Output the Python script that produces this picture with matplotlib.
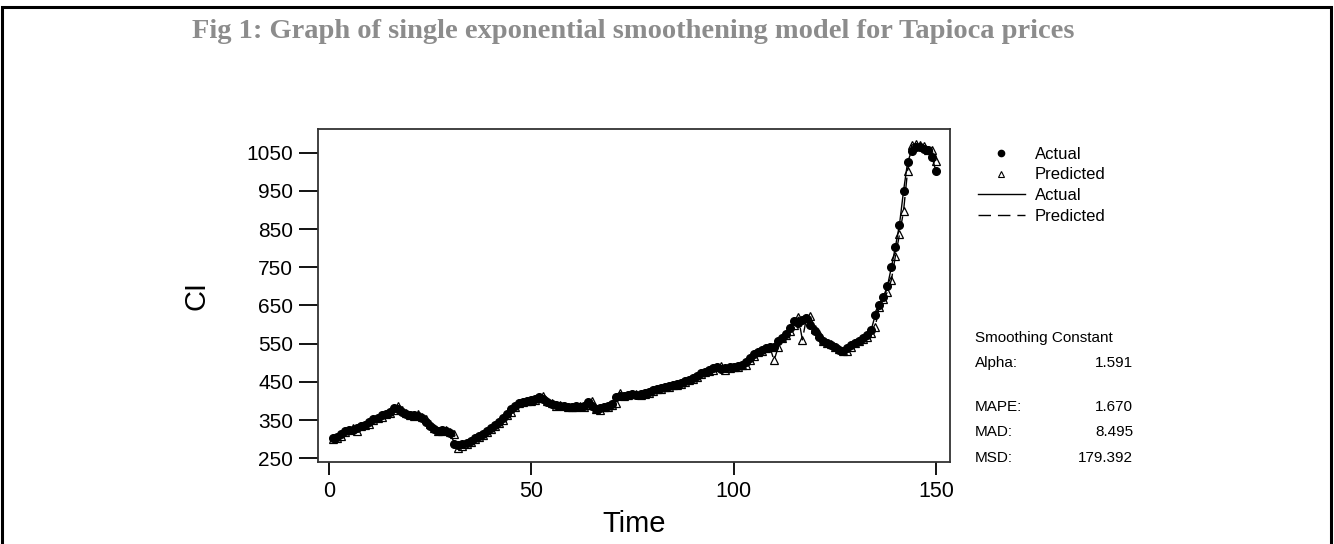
import matplotlib.pyplot as plt
from matplotlib.lines import Line2D
from matplotlib.patches import Rectangle

plt.rcParams["font.family"] = ["Liberation Sans", "DejaVu Sans"]

# time index and series
time = list(range(1, 151))
actual = [
    302, 306, 314, 320, 325, 323, 330, 334, 338, 345,
    352, 356, 362, 366, 372, 382, 378, 372, 366, 362,
    364, 360, 355, 345, 335, 326, 322, 324, 320, 316,
    288, 284, 286, 290, 296, 302, 308, 314, 322, 330,
    338, 346, 356, 366, 378, 388, 394, 398, 400, 402,
    406, 410, 404, 398, 392, 390, 388, 386, 385, 384,
    386, 384, 388, 396, 386, 380, 382, 384, 388, 392,
    410, 412, 414, 416, 418, 416, 418, 420, 424, 428,
    430, 434, 436, 440, 442, 444, 448, 452, 456, 460,
    466, 472, 476, 480, 486, 490, 484, 486, 488, 488,
    492, 494, 502, 512, 522, 528, 534, 538, 540, 540,
    556, 566, 576, 590, 608, 604, 612, 618, 600, 584,
    568, 558, 552, 546, 540, 534, 532, 538, 546, 552,
    558, 564, 572, 586, 624, 650, 672, 700, 750, 804,
    862, 950, 1025, 1055, 1064, 1066, 1060, 1058, 1040, 1002,
]
predicted = [
    300, 302, 308, 319, 324, 328, 322, 334, 336, 340,
    349, 356, 358, 366, 368, 376, 388, 376, 368, 362,
    360, 365, 358, 352, 339, 329, 321, 320, 325, 318,
    314, 276, 282, 287, 292, 300, 306, 312, 318, 327,
    335, 343, 351, 362, 372, 385, 394, 398, 400, 401,
    403, 408, 412, 400, 394, 388, 389, 387, 385, 384,
    383, 387, 383, 390, 401, 380, 376, 383, 385, 390,
    394, 421, 413, 415, 417, 419, 415, 419, 421, 426,
    430, 431, 436, 437, 442, 443, 445, 450, 454, 458,
    462, 470, 476, 478, 482, 490, 492, 480, 487, 489,
    488, 494, 495, 507, 518, 528, 532, 538, 540, 506,
    540, 566, 572, 582, 598, 619, 560, 617, 622, 589,
    574, 558, 552, 548, 542, 536, 530, 531, 542, 551,
    556, 562, 568, 577, 594, 647, 666, 685, 717, 780,
    836, 897, 1003, 1070, 1073, 1069, 1067, 1056, 1057, 1029,
]

y_ticks = [250, 350, 450, 550, 650, 750, 850, 950, 1050]
x_ticks = [0, 50, 100, 150]

stats_labels = ["Alpha:", "MAPE:", "MAD:", "MSD:"]
stats_values = ["1.591", "1.670", "8.495", "179.392"]

fig = plt.figure(figsize=(13.34, 5.44), dpi=100)
ax = fig.add_axes([0.2384, 0.1507, 0.4738, 0.6121])

ax.plot(time, actual, color="black", lw=1.0, ls="-")
ax.plot(time, predicted, color="black", lw=1.0, ls=(0, (9, 5)))
ax.plot(time, actual, ls="none", marker="o", ms=5.5, color="black")
ax.plot(time, predicted, ls="none", marker="^", ms=6, mfc="none",
        mec="black", mew=0.9)

ax.set_xlim(-2.7, 153.5)
ax.set_ylim(240, 1112)
ax.set_xticks(x_ticks)
ax.set_yticks(y_ticks)
ax.tick_params(axis="y", length=14, width=1.3, labelsize=15, pad=4)
ax.tick_params(axis="x", length=9.5, width=1.3, labelsize=15.5, pad=4)
for sp in ax.spines.values():
    sp.set_linewidth(1.3)
    sp.set_color("#333333")

ax.set_xlabel("Time", fontsize=21, labelpad=6)
ax.set_ylabel("CI", fontsize=21, labelpad=26)

handles = [
    Line2D([], [], ls="none", marker="o", ms=4.5, color="black"),
    Line2D([], [], ls="none", marker="^", ms=5, mfc="none", mec="black", mew=0.8),
    Line2D([], [], ls="-", lw=1.0, color="black"),
    Line2D([], [], ls=(0, (9, 5)), lw=1.0, color="black"),
]
fig.legend(handles, ["Actual", "Predicted", "Actual", "Predicted"],
           loc="upper left", bbox_to_anchor=(0.722, 0.758), frameon=False,
           fontsize=12, handlelength=2.8, labelspacing=0.35, handletextpad=0.6)

# smoothing statistics block
fig.text(975 / 1334, 1 - 338 / 544, "Smoothing Constant", fontsize=11, va="center")
rows_y = [363, 407, 432, 458]
for lab, val, yy in zip(stats_labels, stats_values, rows_y):
    fig.text(975 / 1334, 1 - yy / 544, lab, fontsize=11, va="center")
    fig.text(1133 / 1334, 1 - yy / 544, val, fontsize=11, va="center", ha="right")

fig.text(633 / 1334, 1 - 32 / 544,
         "Fig 1: Graph of single exponential smoothening model for Tapioca prices",
         fontsize=20.5, fontweight="bold", family="Liberation Serif",
         color="#8c8c8c", ha="center", va="center")

fig.patches.append(Rectangle((0.0015, -0.02), 0.9965, 1.008, transform=fig.transFigure,
                             fill=False, edgecolor="black", lw=2.2))

fig.savefig("out.png", dpi=100)
